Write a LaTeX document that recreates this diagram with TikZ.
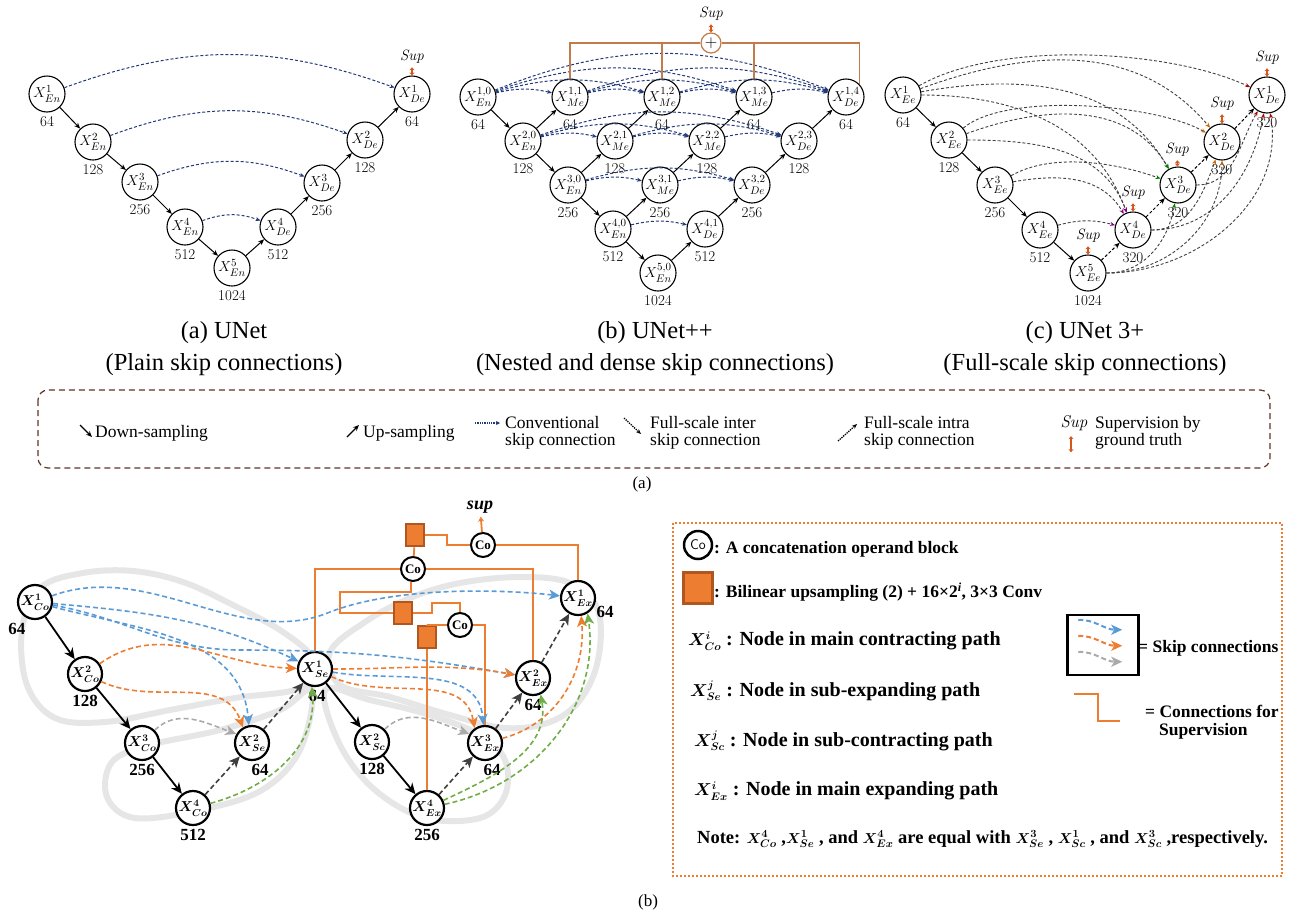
\documentclass[tikz,border=0pt]{standalone}
\usepackage{amsmath}
\usepackage{amssymb}
\usepackage{fontspec}
\usepackage{tikz}
\usepackage{xcolor}
\usetikzlibrary{arrows.meta,calc,positioning,shapes.geometric}

\newfontfamily\tnr{Liberation Serif}
\newcommand{\fsz}[1]{\fontsize{#1}{#1}\selectfont}

\definecolor{navy}{HTML}{233A7A}
\definecolor{supbrown}{HTML}{C27B4A}
\definecolor{supred}{HTML}{D2581E}
\definecolor{legbrown}{HTML}{5E3328}
\definecolor{skblue}{HTML}{5B9BD5}
\definecolor{skorange}{HTML}{ED7D31}
\definecolor{skgray}{HTML}{AAAAAA}
\definecolor{skgreen}{HTML}{70AD47}
\definecolor{skdark}{HTML}{3F3F3F}
\definecolor{bdark}{HTML}{B0561E}
\definecolor{loopgray}{HTML}{E6E6E6}

\begin{document}
\begin{tikzpicture}[x=1pt,y=-1pt,font=\fsz{15},
  unode/.style={circle,draw,fill=white,line width=1.1pt,minimum size=36pt,inner sep=0pt},
  down/.style={-{Stealth[length=6pt,width=5pt]},line width=1pt},
  upd/.style={down,dash pattern=on 3pt off 2pt},
  plainskip/.style={navy,dash pattern=on 3pt off 2pt,line width=1pt,-{Stealth[length=5pt,width=4pt]}},
  fsk/.style={black!75,dash pattern=on 3pt off 2pt,line width=.9pt,-{Stealth[length=5pt,width=4pt,color=#1]}},
  supar/.style={supred,line width=1.8pt,{Stealth[length=3pt,width=5pt]}-{Stealth[length=3pt,width=5pt]}},
  suptree/.style={supbrown,line width=1.2pt},
  suptxt/.style={font=\itshape\fsz{15}},
  captxt/.style={font=\tnr\fsz{24.5}},
  leg/.style={font=\tnr\fsz{17.5},align=left,anchor=west,inner sep=0pt},
  bnode/.style={circle,draw,fill=white,line width=2.2pt,minimum size=34pt,inner sep=0pt,font=\boldmath\fsz{14}},
  blab/.style={font=\tnr\bfseries\fsz{17}},
  bdown/.style={-{Stealth[length=11pt,width=10pt]},line width=1.8pt},
  skipc/.style={line width=1.6pt,dash pattern=on 5pt off 3pt,-{Stealth[length=11pt,width=10pt,inset=3pt]}},
  supl/.style={skorange,line width=1.8pt},
  bbox/.style={draw=bdark,fill=skorange,line width=2.5pt,minimum width=18pt,minimum height=22pt,inner sep=0pt},
  conode/.style={circle,draw,fill=white,line width=2pt,minimum size=24pt,inner sep=0pt,font=\tnr\bfseries\fsz{13}},
  btxt/.style={font=\tnr\bfseries\fsz{17.5},inner sep=0pt},
  bline/.style={font=\tnr\bfseries\boldmath\fsz{20},inner sep=0pt}]
\useasboundingbox (0,0) rectangle (1297,916);

% (a) UNet
\foreach \n/\x/\y/\t/\c in {aE1/47/94/{X^{1}_{En}}/64, aE2/93/142/{X^{2}_{En}}/128,
    aE3/140/182/{X^{3}_{En}}/256, aE4/185/227/{X^{4}_{En}}/512, aE5/232/268/{X^{5}_{En}}/1024,
    aD4/278/227/{X^{4}_{De}}/512, aD3/322/183/{X^{3}_{De}}/256, aD2/365/140/{X^{2}_{De}}/128,
    aD1/412/94/{X^{1}_{De}}/64}
  \node[unode,label=below:\c] (\n) at (\x,\y) {$\t$};
\foreach \a/\b in {aE1/aE2,aE2/aE3,aE3/aE4,aE4/aE5,aE5/aD4,aD4/aD3,aD3/aD2,aD2/aD1}
  \draw[down] (\a) -- (\b);
\foreach \i in {1,...,4}
  \draw[plainskip] (aE\i) to[bend left=20] (aD\i);
\node[suptxt] (aSup) at (412,57) {Sup};
\draw[supar] (aSup) -- (aD1);

% (b) UNet++
\foreach \i in {1,...,5}{
  \pgfmathtruncatemacro{\last}{5-\i}
  \pgfmathtruncatemacro{\ch}{32*2^\i}
  \foreach \j in {0,...,\last}{
    \ifnum\j=0 \def\nsub{En}\else\ifnum\j=\last\relax \def\nsub{De}\else\def\nsub{Me}\fi\fi
    \node[unode,label=below:\ch] (b\i\j) at ({478+45*(\i-1)+92*\j},{97+44*(\i-1)}) {$X^{\i,\j}_{\nsub}$};
  }
}
\foreach \i in {2,...,5}{
  \pgfmathtruncatemacro{\last}{5-\i}
  \pgfmathtruncatemacro{\up}{\i-1}
  \foreach \j in {0,...,\last}{
    \pgfmathtruncatemacro{\nj}{\j+1}
    \draw[down] (b\i\j) -- (b\up\nj);
  }
  \draw[down] (b\up0) -- (b\i0);
}
\foreach \i in {1,...,4}{
  \pgfmathtruncatemacro{\last}{5-\i}
  \pgfmathtruncatemacro{\lm}{4-\i}
  \foreach \j in {0,...,\lm}{
    \pgfmathtruncatemacro{\jn}{\j+1}
    \foreach \k in {\jn,...,\last}{
      \pgfmathtruncatemacro{\bnd}{10+3*(\k-\j)}
      \draw[plainskip] (b\i\j) to[bend left=\bnd] (b\i\k);
    }
  }
}
\node[circle,draw=supbrown,fill=white,line width=1.2pt,minimum size=20pt,inner sep=0pt,font=\fsz{18}] (bPlus) at (711,43) {$+$};
\draw[suptree] (b11.north) |- (bPlus.west);
\draw[suptree] (b12.north) |- (bPlus.west);
\draw[suptree] (b13.north) |- (bPlus.east);
\draw[suptree] (b14.north east) |- (bPlus.east);
\node[suptxt] (bSup) at (711,14) {Sup};
\draw[supar] (bSup) -- (bPlus);

% (c) UNet 3+
\foreach \n/\x/\y/\t/\c in {cE1/903/95/{X^{1}_{Ee}}/64, cE2/949/140/{X^{2}_{Ee}}/128,
    cE3/995/185/{X^{3}_{Ee}}/256, cE4/1040/230/{X^{4}_{Ee}}/512, cE5/1088/273/{X^{5}_{Ee}}/1024,
    cD4/1133/230/{X^{4}_{De}}/320, cD3/1178/185/{X^{3}_{De}}/320, cD2/1222/142/{X^{2}_{De}}/320,
    cD1/1267/95/{X^{1}_{De}}/320}
  \node[unode,label=below:\c] (\n) at (\x,\y) {$\t$};
\foreach \a/\b in {cE1/cE2,cE2/cE3,cE3/cE4,cE4/cE5}
  \draw[down] (\a) -- (\b);
\foreach \a/\b in {cE5/cD4,cD4/cD3,cD3/cD2,cD2/cD1}
  \draw[upd] (\a) -- (\b);
\foreach \n/\x/\y in {cD1/1267/58, cD2/1222/104, cD3/1177/150, cD4/1133/193, cE5/1088/236}{
  \node[suptxt] (s\n) at (\x,\y) {Sup};
  \draw[supar] (s\n) -- (\n);
}
% inter
\draw[fsk=red!70!black] (cE1) to[out=30,in=155,looseness=.7] (cD1);
\draw[fsk=orange!80!black] (cE1) to[out=20,in=130] (cD2);
\draw[fsk=green!50!black] (cE1) to[out=10,in=120] (cD3);
\draw[fsk=violet] (cE1) to[out=0,in=110] (cD4);
\draw[fsk=orange!80!black] (cE2) to[out=40,in=150,looseness=.6] (cD2);
\draw[fsk=green!50!black] (cE2) to[out=20,in=120] (cD3);
\draw[fsk=violet] (cE2) to[out=0,in=110] (cD4);
\draw[fsk=green!50!black] (cE3) to[out=30,in=160,looseness=.8] (cD3);
\draw[fsk=violet] (cE3) to[out=10,in=120] (cD4);
\draw[fsk=violet] (cE4) to[bend left=15] (cD4);
% intra
\draw[fsk=green!50!black] (cE5) to[out=0,in=-100] (cD3);
\draw[fsk=orange!80!black] (cE5) to[out=0,in=-90] (cD2);
\draw[fsk=red!70!black] (cE5) to[out=0,in=-80] (cD1);
\draw[fsk=orange!80!black] (cD4) to[out=0,in=-110] (cD2);
\draw[fsk=red!70!black] (cD4) to[out=0,in=-100] (cD1);
\draw[fsk=red!70!black] (cD3) to[out=0,in=-120] (cD1);

% captions
\node[captxt] (capa1) at (224,333) {(a) UNet};
\node[captxt] (capa2) at (224,365) {(Plain skip connections)};
\node[captxt] (capb1) at (655,333) {(b) UNet++};
\node[captxt] (capb2) at (655,365) {(Nested and dense skip connections)};
\node[captxt] (capc1) at (1085,333) {(c) UNet 3+};
\node[captxt] (capc2) at (1085,365) {(Full-scale skip connections)};

% legend (a)
\draw[legbrown,line width=1.2pt,dash pattern=on 6pt off 4pt,rounded corners=10pt] (38,390) rectangle (1270,468);
\node[leg] (lDown) at (95,433) {Down-sampling};
\node[leg] (lUp) at (363,433) {Up-sampling};
\node[leg] (lConv) at (505,433) {Conventional\\skip connection};
\node[leg] (lInter) at (650,433) {Full-scale inter\\skip connection};
\node[leg] (lIntra) at (864,433) {Full-scale intra\\skip connection};
\node[leg] (lSupT) at (1095,433) {Supervision by\\ground truth};
\node[font=\itshape\fsz{17}] (lSup) at (1074,423) {Sup};
\draw[down,line width=1.3pt] (lDown.west) ++(-15,-8) -- ++(12,12);
\draw[down,line width=1.3pt] (lUp.west) ++(-16,4) -- ++(12,-12);
\draw[navy,densely dotted,line width=1.3pt,-{Stealth[length=4pt,width=4pt]}] (lConv.west) ++(-30,-10) -- ++(25,0);
\draw[densely dotted,line width=1.3pt,-{Stealth[length=5pt,width=4pt]}] (lInter.west) ++(-26,-15) -- ++(17,16);
\draw[densely dotted,line width=1.3pt,-{Stealth[length=5pt,width=4pt]}] (lIntra.west) ++(-26,8) -- ++(19,-17);
\draw[supar] (lSup.south) ++(-3,2) -- ++(0,16);
\node[font=\tnr\fsz{17}] (capA) at (642,484) {(a)};

% (b) background loops
\draw[loopgray,line width=6pt] plot[smooth cycle,tension=.6] coordinates {(313,660) (283,632) (233,605) (183,582) (133,571) (83,573) (40,588) (22,630) (27,685) (55,718) (105,722) (170,710) (235,698) (300,688)};
\draw[loopgray,line width=6pt] plot[smooth cycle,tension=.6] coordinates {(312,690) (300,750) (262,790) (200,810) (135,818) (107,797) (112,762) (150,745) (220,730) (280,710)};
\draw[loopgray,line width=6pt] plot[smooth cycle,tension=.6] coordinates {(330,652) (365,622) (410,598) (460,583) (520,577) (570,583) (598,610) (598,660) (580,700) (550,722) (505,728) (450,715) (390,697) (340,685)};
\draw[loopgray,line width=6pt] plot[smooth cycle,tension=.6] coordinates {(325,690) (340,745) (375,790) (425,818) (480,818) (505,795) (505,760) (480,735) (430,715) (370,700)};

% (b) nodes
\node[bnode,label={[blab,xshift=-18pt]below:64}] (C1) at (35,602) {$X^{1}_{Co}$};
\node[bnode,label={[blab]below:128}] (C2) at (85,674) {$X^{2}_{Co}$};
\node[bnode,label={[blab]below:256}] (C3) at (142,743) {$X^{3}_{Co}$};
\node[bnode,label={[blab]below:512}] (C4) at (193,808) {$X^{4}_{Co}$};
\node[bnode,label={[blab,xshift=8pt]below:64}] (S2) at (252,743) {$X^{2}_{Se}$};
\node[bnode,label={[blab,xshift=2pt]below:64}] (S1) at (315,669) {$X^{1}_{Se}$};
\node[bnode,label={[blab]below:128}] (Sc2) at (372,742) {$X^{2}_{Sc}$};
\node[bnode,label={[blab]below:256}] (E4) at (427,808) {$X^{4}_{Ex}$};
\node[bnode,label={[blab,xshift=7pt]below:64}] (E3) at (485,743) {$X^{3}_{Ex}$};
\node[bnode,label={[blab]below:64}] (E2) at (533,678) {$X^{2}_{Ex}$};
\node[bnode,label={[blab,yshift=-14pt,xshift=-3pt]right:64}] (E1) at (578,598) {$X^{1}_{Ex}$};

% supervision
\node[bbox] (B1) at (415,535) {};
\node[conode] (CoT) at (483,545) {Co};
\node[conode] (CoM) at (413,569) {Co};
\node[bbox] (B2) at (403,613) {};
\node[conode] (CoL) at (460,625) {Co};
\node[bbox] (B3) at (427,637) {};
\node[font=\tnr\bfseries\itshape\fsz{18}] (bSupT) at (480,507) {sup};
\draw[supl,-{Stealth[length=5pt,width=6pt]}] (CoT) -- (bSupT);
\draw[supl] (CoT) -| (E1);
\draw[supl] (B1.east) -- ++(22,0) |- (CoT.west);
\draw[supl] (B1) -- (CoM);
\draw[supl] (CoM) -| (S1);
\draw[supl] (CoM) -| (E2);
\draw[supl] (CoM.-100) -- ++(0,10) -| (340,613) -- (B2.west);
\draw[supl] (B2.east) -- ++(19,0) -- ++(0,-10) -| (CoL.north);
\draw[supl] (B3.north) |- (CoL.west);
\draw[supl] (B3) -- (E4);
\draw[supl] (CoL) -| (E3);

% down-sampling
\foreach \a/\b in {C1/C2,C2/C3,C3/C4,S1/Sc2,Sc2/E4}
  \draw[bdown] (\a) -- (\b);

% skip connections
\draw[skipc,skblue] (C1) .. controls (150,560) and (240,650) .. (330,612) .. controls (400,585) and (510,590) .. (E1);
\draw[skipc,skblue] (C1) to[out=-5,in=155] (S1);
\draw[skipc,skblue] (C1) to[out=-10,in=180] (240,650) to[out=0,in=170] (E2);
\draw[skipc,skblue] (C1) to[out=-15,in=95] (S2.100);
\draw[skipc,skblue] (S1) to[out=-10,in=95] (E3.95);
\draw[skipc,skorange] (C2) to[out=35,in=178] (S1);
\draw[skipc,skorange] (C2) to[out=-25,in=110] (S2.120);
\draw[skipc,skorange] (S1) to[out=0,in=170] (E2);
\draw[skipc,skorange] (S1) to[out=-25,in=100] (E3.125);
\draw[skipc,skorange] (E3) to[out=15,in=-85] (E1.-80);
\draw[skipc,skgray] (C3) to[out=45,in=160] (S2.150);
\draw[skipc,skgray] (Sc2) to[out=45,in=160] (E3.150);
\foreach \a/\b in {C4/S2,S2/S1,E4/E3,E3/E2,E2/E1}
  \draw[skipc,skdark] (\a) -- (\b);
\draw[skipc,skgreen] (C4) to[out=15,in=-85] (S1.-100);
\draw[skipc,skgreen] (E4) to[out=25,in=-80] (E2.-65);
\draw[skipc,skgreen] (E4) to[out=12,in=-82] (E1.-58);

% legend (b)
\draw[skorange,line width=2pt,dash pattern=on 2pt off 2pt] (673,523) rectangle (1282,876);
\node[conode,font=\sffamily\fsz{14},minimum size=28pt,line width=2.5pt] (lgCo) at (698,545) {Co};
\node[btxt,anchor=west] (lgCoT) at (714,549) {: A concatenation operand block};
\node[bbox,minimum width=29pt,minimum height=31pt,line width=3.5pt] (lgB) at (698,588) {};
\node[btxt,anchor=west] (lgBT) at (714,592) {: Bilinear upsampling (2) + 16×2\textsuperscript{\itshape i}, 3×3 Conv};
\node[bline,anchor=west] (lgCoN) at (688,641) {{\fsz{16}$X^{i}_{Co}$} : Node in main contracting path};
\node[bline,anchor=west] (lgSeN) at (690,691) {{\fsz{16}$X^{j}_{Se}$} : Node in sub-expanding path};
\node[bline,anchor=west] (lgScN) at (694,741) {{\fsz{16}$X^{j}_{Sc}$} : Node in sub-contracting path};
\node[bline,anchor=west] (lgExN) at (694,791) {{\fsz{16}$X^{i}_{Ex}$} : Node in main expanding path};
\node[bline,font=\tnr\bfseries\boldmath\fsz{18.5},anchor=west] (lgNote) at (697,839) {Note: {\fsz{15}$X^{4}_{Co}$} ,{\fsz{15}$X^{1}_{Se}$} , and {\fsz{15}$X^{4}_{Ex}$} are equal with {\fsz{15}$X^{3}_{Se}$} , {\fsz{15}$X^{1}_{Sc}$} , and {\fsz{15}$X^{3}_{Sc}$} ,respectively.};
\node[draw,line width=2.5pt,minimum width=71pt,minimum height=60pt,inner sep=0pt] (lgSk) at (1103,645) {};
\draw[skipc,skblue,line width=2pt] (lgSk.north west) ++(12,6) to[out=0,in=180] ++(44,10);
\draw[skipc,skorange,line width=2pt] (lgSk.north west) ++(12,22) to[out=0,in=180] ++(44,10);
\draw[skipc,skgray,line width=2pt] (lgSk.north west) ++(12,38) to[out=0,in=180] ++(44,10);
\node[btxt,anchor=west] (lgSkT) at (1138,648) {= Skip connections};
\draw[supl] (1074,694) -| (1098,721) -- (1120,721);
\node[btxt,anchor=west] (lgSupA) at (1145,711) {= Connections for};
\node[btxt,anchor=west] (lgSupB) at (1159,731) {Supervision};
\node[font=\tnr\fsz{17}] (capB) at (648,902) {(b)};
\end{tikzpicture}
\end{document}
